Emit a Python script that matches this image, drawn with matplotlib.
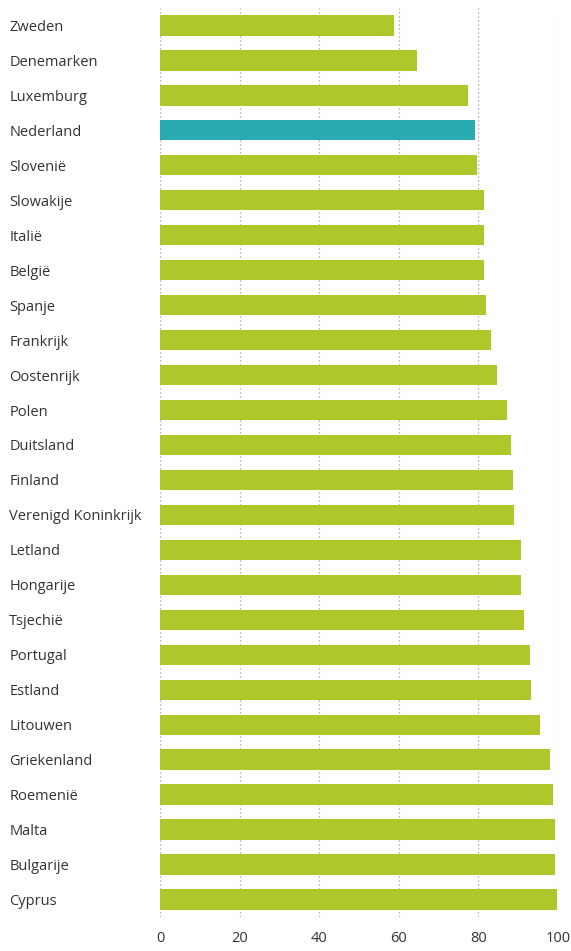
import matplotlib
matplotlib.use("Agg")
import matplotlib.pyplot as plt

countries = ["Zweden", "Denemarken", "Luxemburg", "Nederland", "Slovenië", "Slowakije",
             "Italië", "België", "Spanje", "Frankrijk", "Oostenrijk", "Polen", "Duitsland",
             "Finland", "Verenigd Koninkrijk", "Letland", "Hongarije", "Tsjechië", "Portugal",
             "Estland", "Litouwen", "Griekenland", "Roemenië", "Malta", "Bulgarije", "Cyprus"]
values = [58.8, 64.6, 77.4, 79.1, 79.6, 81.4, 81.5, 81.5, 81.9, 83.2, 84.7, 87.2, 88.2,
          88.7, 88.9, 90.7, 90.7, 91.5, 93.0, 93.2, 95.5, 98.0, 98.7, 99.2, 99.2, 99.7]
highlight = "Nederland"
xticks = [0, 20, 40, 60, 80, 100]

green = "#B0C72B"
teal = "#2AAAB1"
colors = [teal if c == highlight else green for c in countries]

plt.rcParams['font.family'] = ['Open Sans', 'DejaVu Sans']

fig = plt.figure(figsize=(5.71, 9.51), dpi=100)
ax = fig.add_axes([0.2802, 0.0358, 0.977 - 0.2802, 0.9916 - 0.0358])

ypos = list(range(len(countries)))
ax.barh(ypos, values, height=0.58, color=colors, zorder=1)

for x in xticks:
    ax.axvline(x, color="#a0a0a0", linestyle=(0, (1, 2.2)), linewidth=0.9, zorder=0)

ax.set_xlim(0, 100)
ax.set_ylim(len(countries) - 0.5, -0.5)
ax.set_xticks(xticks)
ax.set_xticklabels([str(x) for x in xticks], fontsize=10.5, color="#333333")
ax.set_yticks(ypos)
ax.set_yticklabels(countries, fontsize=10.5, color="#333333")
for lab in ax.get_yticklabels():
    lab.set_horizontalalignment("left")
ax.tick_params(axis="y", length=0, pad=108.5)
ax.tick_params(axis="x", length=0, pad=10)

for s in ax.spines.values():
    s.set_visible(False)

fig.savefig("out.png", dpi=100)
